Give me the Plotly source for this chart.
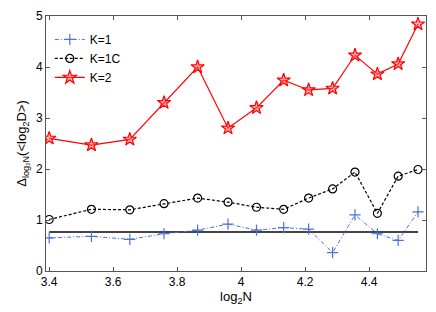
import plotly.graph_objects as go

x = [3.400, 3.532, 3.652, 3.759, 3.864, 3.959, 4.048, 4.133, 4.211, 4.286, 4.356, 4.426, 4.491, 4.553]
k1 = [0.65, 0.68, 0.62, 0.73, 0.80, 0.92, 0.80, 0.85, 0.82, 0.36, 1.10, 0.73, 0.60, 1.16]
k1c = [1.01, 1.21, 1.20, 1.32, 1.43, 1.35, 1.25, 1.21, 1.43, 1.61, 1.94, 1.13, 1.86, 1.99]
k2 = [2.60, 2.47, 2.58, 3.30, 4.00, 2.80, 3.20, 3.74, 3.55, 3.58, 4.23, 3.86, 4.06, 4.84]
ref_level = 0.765

fig = go.Figure()
fig.add_trace(go.Scatter(x=[x[0], x[-1]], y=[ref_level, ref_level], mode="lines",
                         line=dict(color="#444444", width=2), showlegend=False))
fig.add_trace(go.Scatter(x=x, y=k1, mode="lines+markers", name="K=1",
                         line=dict(color="#4a72d8", width=1, dash="4px,2px,1px,2px"),
                         marker=dict(symbol="cross-thin", size=8, line=dict(color="#4a72d8", width=1.2))))
fig.add_trace(go.Scatter(x=x, y=k1c, mode="lines+markers", name="K=1C",
                         line=dict(color="black", width=1.2, dash="3px,2px"),
                         marker=dict(symbol="circle-open", size=8, color="black", line=dict(width=1.2))))
fig.add_trace(go.Scatter(x=x, y=k2, mode="lines+markers", name="K=2",
                         line=dict(color="red", width=1.2),
                         marker=dict(symbol="star", size=10, color="rgba(255,90,90,0.5)",
                                     line=dict(color="red", width=1.2))))

axis_common = dict(showline=True, linecolor="#555555", linewidth=1, mirror="ticks",
                   ticks="inside", ticklen=4, tickcolor="#555555", showgrid=False, zeroline=False,
                   tickfont=dict(family="Liberation Sans, Arial", size=12, color="black"))
fig.update_layout(
    width=436, height=312,
    margin=dict(l=46, r=10, t=9, b=41),
    plot_bgcolor="white", paper_bgcolor="white",
    font=dict(family="Liberation Sans, Arial", size=12, color="black"),
    xaxis=dict(range=[3.39, 4.578], tickvals=[3.4, 3.6, 3.8, 4.0, 4.2, 4.4],
               ticktext=["3.4", "3.6", "3.8", "4", "4.2", "4.4"],
               title=dict(text="log<sub>2</sub>N", standoff=2, font=dict(size=13)), **axis_common),
    yaxis=dict(range=[0, 5], tickvals=[0, 1, 2, 3, 4, 5],
               title=dict(text="Δ<sub>log₂N</sub>(&lt;log<sub>2</sub>D&gt;)", standoff=6, font=dict(size=13)),
               **axis_common),
    legend=dict(x=0.01, y=0.965, xanchor="left", yanchor="top", bgcolor="rgba(0,0,0,0)",
                font=dict(size=12), itemwidth=30, tracegroupgap=0),
)
fig.write_html("out.html", post_script="document.body.style.margin='0px';",
               config={"displayModeBar": False})
